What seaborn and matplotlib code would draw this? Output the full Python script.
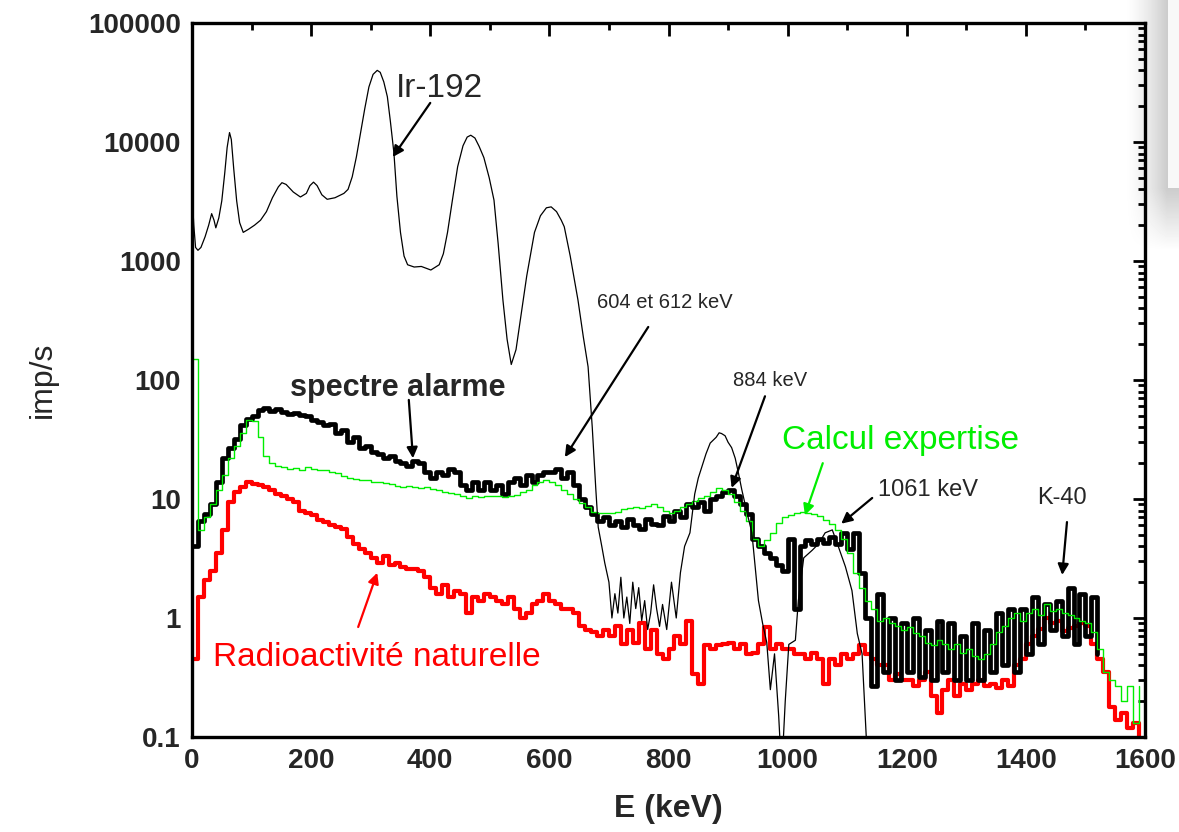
import numpy as np
import pandas as pd
import matplotlib
matplotlib.use("Agg")
import matplotlib.pyplot as plt
from matplotlib.ticker import LogLocator, FixedLocator, MultipleLocator, NullFormatter
import seaborn as sns

# --- data (imp/s), step spectra on 10 keV bins ---
bins_kev = list(range(0, 1600, 10))

alarme = [
    4.0, 6.5, 7.5, 9, 14, 22, 27, 32, 42, 47,
    50, 56, 58, 55, 57, 54, 52, 53, 51, 50,
    46, 44, 42, 43, 36, 38, 30, 33, 27, 28,
    25, 24, 22, 23, 21, 20, 19, 21, 20, 17,
    15, 17, 16, 18, 17, 13, 12, 14, 12, 14,
    12, 13, 11, 14, 15, 13, 16, 14, 16, 17,
    17, 18, 15, 17, 13, 10, 8.5, 7.5, 6.5, 7,
    6, 6.5, 5.8, 6.8, 6, 5.6, 6.8, 6.2, 6, 7.2,
    6.5, 8, 7, 9, 8.5, 9.5, 8, 10, 10.5, 11.5,
    12, 10.5, 9, 7.5, 4.6, 4.0, 3.5, 3.2, 2.8, 2.5,
    4.6, 1.2, 4.0, 4.5, 4.2, 4.6, 4.3, 4.8, 4.2, 5.2,
    3.8, 5.2, 2.4, 1.0, 0.27, 1.6, 0.35, 1.0, 0.3, 0.9,
    0.35, 1.0, 0.32, 0.8, 0.3, 0.95, 0.35, 0.9, 0.3, 0.7,
    0.3, 0.9, 0.3, 0.8, 0.35, 1.1, 0.4, 1.2, 0.35, 1.2,
    0.5, 1.5, 0.6, 1.3, 0.8, 1.4, 0.7, 1.8, 0.6, 1.6,
    0.7, 1.5, 0.5, np.nan, np.nan, np.nan, np.nan, np.nan, np.nan, np.nan,
]

naturelle = [
    0.45, 1.5, 2.1, 2.5, 3.5, 5.5, 9.4, 11.5, 12.6, 14,
    13.3, 13, 12.5, 12, 11, 10.7, 10, 9.5, 8, 7.6,
    7.3, 6.6, 6.4, 6, 5.8, 5.6, 4.8, 4.2, 3.8, 3.5,
    3.2, 2.9, 3.3, 2.8, 2.9, 2.7, 2.6, 2.6, 2.5, 2.2,
    1.8, 1.6, 1.9, 1.5, 1.7, 1.6, 1.1, 1.5, 1.4, 1.6,
    1.5, 1.4, 1.3, 1.5, 1.2, 1.0, 1.1, 1.3, 1.4, 1.6,
    1.4, 1.3, 1.2, 1.2, 1.1, 0.85, 0.8, 0.76, 0.7, 0.8,
    0.7, 0.85, 0.6, 0.8, 0.62, 0.9, 0.55, 0.8, 0.5, 0.45,
    0.55, 0.7, 0.6, 0.94, 0.34, 0.28, 0.59, 0.55, 0.59, 0.6,
    0.62, 0.55, 0.6, 0.5, 0.51, 0.6, 0.84, 0.55, 0.6, 0.55,
    0.55, 0.5, 0.5, 0.45, 0.51, 0.45, 0.28, 0.45, 0.4, 0.5,
    0.45, 0.5, 0.59, 0.5, 0.45, 0.4, 0.4, 0.3, 0.34, 0.3,
    0.3, 0.27, 0.3, 0.35, 0.22, 0.16, 0.25, 0.3, 0.22, 0.28,
    0.25, 0.28, 0.3, 0.27, 0.28, 0.26, 0.3, 0.27, 0.4, 0.45,
    0.6, 0.7, 0.81, 1.0, 0.9, 0.95, 0.78, 0.82, 0.85, 0.9,
    0.85, 0.6, 0.45, 0.35, 0.18, 0.14, 0.16, 0.12, 0.13, 0.1,
]

expertise = [
    150, 5.5, 7, 9, 12, 16, 22, 28, 36, 46,
    45, 33, 23, 20, 19, 18.5, 18, 18.3, 17.5, 18.6,
    18, 17.6, 17.6, 17, 16.5, 15.5, 15, 14.8, 14.5, 14.5,
    14, 13.8, 13.5, 13.3, 12.8, 12.6, 12.8, 12.5, 12.3, 12.5,
    12.2, 12, 11.5, 11.2, 11, 10.5, 10.2, 10.5, 10.4, 10.5,
    10.6, 10.5, 10.4, 10.6, 10.8, 11.5, 12, 13, 14, 14.5,
    14, 13, 12, 11, 10, 9.2, 8.5, 7.8, 7.6, 7.6,
    7.7, 7.8, 8.2, 8.4, 8.6, 8.4, 8.8, 9, 8.5, 8,
    7.6, 7.9, 8.5, 9, 9.6, 10.2, 10.5, 11.5, 12.3, 12,
    11, 9.5, 8, 6.5, 4.6, 4.0, 4.5, 5.2, 6.3, 7,
    7.4, 7.6, 7.8, 7.6, 7.5, 7.2, 6.6, 6.2, 5.5, 4.6,
    3.5, 2.4, 1.8, 1.4, 1.2, 0.95, 1.0, 0.9, 0.85, 0.8,
    0.84, 0.75, 0.7, 0.62, 0.59, 0.65, 0.6, 0.55, 0.6, 0.51,
    0.55, 0.48, 0.45, 0.5, 0.6, 0.76, 0.85, 1.0, 1.1, 0.95,
    1.1, 1.2, 1.05, 1.3, 1.15, 1.2, 1.1, 1.05, 1.0, 0.95,
    0.9, 0.76, 0.55, 0.35, 0.3, 0.27, 0.2, 0.27, 0.13, 0.27,
]

# Ir-192 source spectrum (smooth curve)
ir_kev = [0, 3, 6, 10, 15, 22, 28, 33, 37, 40, 45, 50, 55, 59, 63, 66, 70, 75,
          80, 86, 95, 105, 115, 125, 135, 145, 151, 158, 170, 182, 192, 198,
          204, 210, 218, 227, 240, 255, 262, 269, 276, 283, 290, 297, 304, 311,
          316, 322, 328, 333, 339, 344, 350, 356, 362, 373, 385, 401, 415, 422,
          429, 437, 446, 455, 462, 468, 475, 482, 490, 499, 507, 514, 522, 529,
          536, 544, 552, 562, 575, 585, 595, 603, 612, 620, 625, 635, 648, 657,
          665, 672, 678, 682, 688, 693, 700, 705, 710, 715, 720, 725, 730, 735,
          740, 745, 750, 755, 760, 765, 770, 775, 780, 785, 790, 797, 805, 813,
          820, 827, 836, 844, 850, 856, 863, 870, 880, 885, 889, 895, 900, 906,
          912, 918, 923, 931, 940, 951, 958, 965, 971, 978, 985, 990, 996, 1002,
          1013, 1018, 1027, 1041, 1052, 1063, 1075, 1085, 1097, 1108, 1117,
          1125, 1133, 1140]
ir_rate = [3800, 2000, 1300, 1230, 1300, 1600, 2000, 2500, 2200, 1900, 2300,
           3200, 5500, 9000, 12000, 10500, 6000, 3200, 2100, 1740, 1850, 2000,
           2200, 2600, 3400, 4200, 4550, 4400, 3800, 3450, 3700, 4300, 4600,
           4300, 3600, 3300, 3400, 3700, 4000, 5100, 7500, 12000, 19000, 29000,
           37000, 40000, 38500, 32000, 24000, 15000, 8100, 3500, 1740, 1100,
           930, 890, 900, 840, 930, 1150, 1740, 3200, 6200, 9300, 11000, 11400,
           10800, 9200, 7400, 5000, 3250, 1400, 470, 220, 135, 180, 340, 750,
           1740, 2400, 2800, 2850, 2600, 2200, 1940, 1100, 470, 230, 129, 40,
           12, 5.8, 4.0, 2.9, 2.0, 1.0, 1.6, 1.1, 2.2, 1.0, 1.5, 0.9, 2.0, 1.2,
           1.8, 0.95, 1.4, 0.8, 1.1, 1.9, 1.2, 0.85, 1.3, 0.8, 2.0, 1.0, 2.4,
           4.0, 5.2, 11, 15, 18.6, 24, 29.5, 33, 36, 35.5, 34, 30, 27, 22, 16,
           12, 8, 5.2, 1.4, 0.9, 0.62, 0.25, 0.5, 0.15, 0.05, 0.2, 0.6, 0.65,
           1.4, 3.2, 3.7, 4.2, 5.2, 5.5, 4.0, 2.7, 1.7, 0.74, 0.5, 0.08, 0.05]

x_ticks = [0, 200, 400, 600, 800, 1000, 1200, 1400, 1600]
y_ticks = [0.1, 1, 10, 100, 1000, 10000, 100000]
y_ticklabels = ["0.1", "1", "10", "100", "1000", "10000", "100000"]

# --- figure ---
sns.set_style("white")
plt.rcParams["font.family"] = ["Liberation Sans", "DejaVu Sans"]

W, H = 1179, 832
fig = plt.figure(figsize=(W / 100, H / 100), dpi=100)

# faint page shadow at the right edge of the scan
bg = fig.add_axes([1100 / W, 1 - 260 / H, 79 / W, 260 / H])
gx = np.linspace(0, 1, 79)
shade = np.clip((gx - 0.3) / 0.55, 0, 1)[None, :] ** 1.5 * 0.2
shade = np.repeat(shade, 260, axis=0)
shade[:188, 68:] = 0.03
fade = np.clip((250 - np.arange(260)) / 62, 0, 1)
shade[188:, :] *= fade[188:, None]
bg.imshow(1 - shade, cmap="gray", vmin=0, vmax=1, aspect="auto",
          interpolation="bilinear")
bg.axis("off")

ax = fig.add_axes([192 / W, 1 - 737 / H, 953 / W, 714 / H])
ax.patch.set_alpha(0)

df_steps = pd.DataFrame({"E": bins_kev, "alarme": alarme,
                         "naturelle": naturelle, "expertise": expertise})
df_ir = pd.DataFrame({"E": ir_kev, "rate": ir_rate})

sns.lineplot(data=df_steps, x="E", y="naturelle", ax=ax, color="#ff0000",
             lw=3.0, drawstyle="steps-post", estimator=None)
sns.lineplot(data=df_steps, x="E", y="alarme", ax=ax, color="black",
             lw=3.4, drawstyle="steps-post", estimator=None)
sns.lineplot(data=df_steps, x="E", y="expertise", ax=ax, color="#00ee00",
             lw=1.0, drawstyle="steps-post", estimator=None)
sns.lineplot(data=df_ir, x="E", y="rate", ax=ax, color="black", lw=0.9,
             estimator=None)

ax.set_yscale("log")
ax.set_xlim(0, 1600)
ax.set_ylim(0.1, 100000)

ax.xaxis.set_major_locator(FixedLocator(x_ticks))
ax.xaxis.set_minor_locator(MultipleLocator(100))
ax.set_xticklabels([str(t) for t in x_ticks], fontsize=20, fontweight="bold")
ax.yaxis.set_major_locator(FixedLocator(y_ticks))
ax.yaxis.set_minor_locator(LogLocator(base=10, subs=np.arange(2, 10)))
ax.yaxis.set_minor_formatter(NullFormatter())
ax.set_yticklabels(y_ticklabels, fontsize=20, fontweight="bold")

ax.tick_params(which="both", direction="in", top=True, right=True, width=2,
               color="black")
ax.tick_params(which="major", length=9, pad=8)
ax.tick_params(which="minor", length=5)
for sp in ax.spines.values():
    sp.set_linewidth(2.4)
    sp.set_color("black")

ax.set_xlabel("E (keV)", fontsize=23, fontweight="bold", labelpad=14)
ax.set_ylabel("imp/s", fontsize=23, labelpad=22)

# --- annotations ---
def arrow(tail, tip, color="black"):
    ax.annotate("", xy=tip, xytext=tail,
                arrowprops=dict(arrowstyle="-|>", color=color, lw=1.6,
                                mutation_scale=16, shrinkA=0, shrinkB=0))

ax.text(416, 28400, "Ir-192", fontsize=24, ha="center", va="center")
arrow((400, 21300), (337, 7480))

ax.text(346, 86, "spectre alarme", fontsize=22, fontweight="bold",
        ha="center", va="center")
arrow((364, 68), (371, 22))

ax.text(794, 452, "604 et 612 keV", fontsize=14.5, ha="center", va="center")
arrow((766, 279), (626, 22.5))

ax.text(970, 100, "884 keV", fontsize=14.5, ha="center", va="center")
arrow((962, 73), (906, 12.4))

ax.text(1189, 31.3, "Calcul expertise", fontsize=24, color="#00ee00",
        ha="center", va="center")
arrow((1059, 20), (1029, 7.3), color="#00ee00")

ax.text(1236, 11.9, "1061 keV", fontsize=17, ha="center", va="center")
arrow((1142, 10.2), (1090, 6.2))

ax.text(1461, 10.2, "K-40", fontsize=17, ha="center", va="center")
arrow((1469, 6.4), (1461, 2.3))

ax.text(311, 0.47, "Radioactivité naturelle", fontsize=24, color="#ff0000",
        ha="center", va="center")
arrow((279, 0.84), (311, 2.4), color="#ff0000")

fig.savefig("out.png", dpi=100)
